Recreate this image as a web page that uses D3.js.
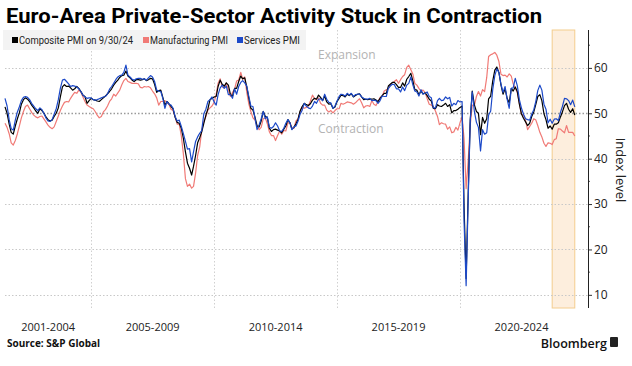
<!DOCTYPE html>
<html>
<head>
<meta charset="utf-8">
<script src="https://cdn.jsdelivr.net/npm/d3@7/dist/d3.min.js"></script>
<style>
    body { margin: 0; background: #fff; }
    svg { display: block; font-family: "Open Sans", "Liberation Sans", sans-serif; }
</style>
</head>
<body>
<div id="chart"></div>
<script>
// monthly readings, first value is July 2001
const seriesStart = new Date(2001, 6, 1);

const composite = [
    51.4, 50.0, 47.6, 45.8, 45.4, 47.2,
    48.8, 50.2, 52.0, 53.0, 53.4, 53.1, 52.6, 51.8, 51.2, 50.5, 50.0, 51.0,
    50.6, 50.0, 49.2, 48.6, 48.3, 48.5, 49.3, 50.0, 51.2, 53.6, 55.8, 56.3,
    55.9, 56.0, 55.6, 55.1, 55.4, 55.9, 55.5, 54.8, 54.0, 53.7, 52.2, 52.8,
    53.3, 53.0, 52.9, 52.7, 52.6, 53.0, 53.4, 53.8, 54.3, 54.8, 55.4, 56.2,
    56.8, 57.3, 57.9, 58.3, 58.4, 59.3, 58.2, 57.8, 57.3, 57.0, 57.4, 57.4,
    57.3, 57.4, 57.6, 57.2, 57.4, 57.7, 57.6, 56.4, 54.6, 55.0, 55.1, 53.5,
    51.8, 52.6, 52.1, 51.5, 51.0, 49.1, 48.0, 47.8, 46.7, 44.5, 41.5, 39.0,
    37.9, 36.4, 38.3, 40.7, 43.5, 44.6, 45.9, 47.8, 49.6, 51.0, 53.0, 53.3,
    53.6, 53.7, 55.9, 57.3, 56.4, 56.0, 56.7, 56.2, 54.1, 53.8, 55.5, 55.5,
    57.0, 58.2, 57.6, 57.8, 55.8, 53.3, 51.1, 50.7, 49.1, 47.2, 47.0, 48.3,
    50.4, 49.3, 49.1, 46.7, 46.0, 46.4, 46.5, 46.3, 46.1, 45.7, 46.5, 47.2,
    48.6, 47.9, 46.5, 46.9, 47.7, 48.7, 50.5, 51.5, 52.2, 51.9, 51.7, 52.1,
    52.9, 53.3, 53.1, 54.0, 53.5, 52.8, 53.8, 52.5, 52.0, 52.1, 51.1, 51.4,
    52.6, 53.3, 54.0, 53.9, 53.6, 54.2, 53.9, 54.3, 53.6, 53.9, 54.2, 54.3,
    53.6, 53.0, 53.1, 53.0, 53.1, 53.1, 53.2, 52.9, 52.6, 53.3, 53.9, 54.4,
    54.4, 56.0, 56.4, 56.8, 56.8, 56.3, 55.7, 55.7, 56.7, 56.0, 57.5, 58.1,
    58.8, 57.1, 55.2, 55.1, 54.1, 54.9, 54.3, 54.5, 53.9, 53.1, 52.7, 51.1,
    51.0, 51.9, 51.6, 51.5, 51.8, 52.2, 51.5, 51.9, 50.1, 50.6, 50.6, 50.9,
    51.3, 51.6, 29.7, 13.6, 31.9, 48.5, 54.9, 51.9, 50.4, 50.0, 45.3, 49.1,
    47.8, 48.8, 53.2, 53.8, 57.1, 59.5, 60.2, 59.0, 56.2, 54.2, 55.4, 53.3,
    52.3, 55.5, 54.9, 55.8, 54.8, 52.0, 49.9, 48.9, 48.1, 47.3, 47.8, 49.3,
    50.3, 52.0, 53.7, 54.1, 52.8, 49.9, 48.6, 46.7, 47.2, 46.5, 47.6, 47.6,
    47.9, 49.2, 50.3, 51.7, 52.2, 50.9, 50.2, 51.0, 49.6
];

const manufacturing = [
    47.8, 46.9, 45.5, 43.5, 43.0, 44.0,
    45.5, 47.3, 49.0, 50.4, 51.5, 51.8, 51.0, 50.2, 49.6, 49.2, 49.0, 49.3,
    49.4, 48.7, 48.1, 47.4, 46.9, 46.6, 47.0, 48.2, 49.4, 50.6, 51.6, 52.4,
    52.6, 52.5, 53.3, 54.0, 54.6, 54.4, 55.1, 54.7, 53.6, 52.6, 51.8, 51.5,
    51.2, 51.0, 50.4, 49.6, 49.0, 49.3, 50.3, 50.8, 51.6, 52.6, 53.2, 54.2,
    53.8, 54.5, 55.1, 56.3, 57.2, 57.7, 57.0, 56.8, 56.6, 56.6, 56.6, 56.5,
    55.7, 55.6, 55.9, 55.8, 55.9, 55.6, 54.9, 54.3, 53.4, 51.8, 52.6, 52.6,
    52.8, 52.3, 52.0, 50.9, 50.6, 49.2, 47.6, 47.6, 45.0, 41.1, 35.6, 33.9,
    34.4, 33.5, 33.9, 36.8, 40.7, 42.6, 46.3, 48.2, 49.3, 50.7, 51.2, 51.6,
    52.4, 54.2, 56.6, 57.6, 55.8, 55.6, 56.7, 55.1, 53.7, 54.6, 55.3, 57.1,
    57.3, 59.0, 57.5, 58.0, 54.6, 52.0, 50.4, 49.0, 48.5, 47.1, 46.4, 46.9,
    48.8, 49.0, 47.7, 45.9, 45.1, 45.1, 44.0, 45.1, 46.1, 45.4, 46.2, 46.1,
    47.9, 47.9, 46.8, 46.7, 48.3, 48.8, 50.3, 51.4, 51.1, 51.3, 51.6, 52.7,
    54.0, 53.2, 53.0, 53.4, 52.2, 51.8, 51.8, 50.7, 50.3, 50.6, 50.1, 50.6,
    51.0, 51.0, 52.2, 52.0, 52.2, 52.5, 52.4, 52.3, 52.0, 52.3, 52.8, 53.2,
    52.3, 51.2, 51.6, 51.7, 51.5, 52.8, 52.0, 51.7, 52.6, 53.5, 53.7, 54.9,
    55.2, 55.4, 56.2, 56.7, 57.0, 57.4, 56.6, 57.4, 58.1, 58.5, 60.1, 60.6,
    59.6, 58.6, 56.6, 56.2, 55.5, 54.9, 55.1, 54.6, 53.2, 52.0, 51.8, 51.4,
    50.5, 49.3, 47.5, 47.9, 47.7, 47.6, 46.5, 47.0, 45.7, 45.9, 46.9, 46.3,
    47.9, 49.2, 44.5, 33.4, 39.4, 47.4, 51.8, 51.7, 53.7, 54.8, 53.8, 55.2,
    54.8, 57.9, 62.5, 62.9, 63.1, 63.4, 62.8, 61.4, 58.6, 58.3, 58.4, 58.0,
    58.7, 58.2, 56.5, 55.5, 54.6, 52.1, 49.8, 49.6, 48.4, 46.4, 47.1, 47.8,
    48.8, 48.5, 47.3, 45.8, 44.8, 43.4, 42.7, 43.5, 43.4, 43.1, 44.2, 44.4,
    46.6, 46.5, 46.1, 45.7, 47.3, 45.8, 45.8, 45.8, 45.0
];

const services = [
    53.3, 51.6, 48.6, 46.6, 46.3, 48.5,
    50.3, 51.5, 52.8, 53.5, 53.7, 53.5, 53.0, 52.2, 51.6, 51.0, 50.6, 51.2,
    50.8, 49.9, 49.0, 48.3, 48.2, 48.6, 49.8, 51.0, 53.0, 55.5, 57.3, 57.5,
    57.0, 56.5, 55.9, 56.1, 56.0, 55.8, 55.4, 54.8, 54.0, 53.6, 53.3, 53.4,
    53.4, 53.0, 52.9, 53.0, 53.2, 53.4, 53.6, 53.7, 54.3, 55.3, 55.9, 56.6,
    57.4, 58.0, 58.3, 58.4, 59.0, 60.6, 58.4, 58.0, 57.5, 57.3, 57.6, 57.7,
    57.7, 57.5, 57.6, 57.3, 57.8, 58.3, 58.0, 57.0, 55.1, 54.9, 54.8, 53.3,
    51.1, 52.6, 52.0, 51.8, 51.1, 49.3, 48.3, 48.5, 47.1, 45.5, 43.8, 42.1,
    42.2, 39.3, 41.5, 43.8, 44.8, 45.6, 46.2, 49.9, 50.9, 52.6, 53.0, 53.6,
    52.5, 51.8, 54.1, 55.6, 56.2, 55.5, 56.0, 54.1, 54.1, 53.3, 55.4, 54.2,
    55.9, 56.8, 57.2, 56.7, 56.0, 53.7, 51.6, 51.5, 48.8, 46.4, 47.5, 48.8,
    50.4, 48.8, 49.2, 46.9, 46.7, 47.1, 47.9, 47.2, 46.1, 46.0, 46.7, 47.8,
    48.6, 47.9, 46.4, 47.0, 47.2, 48.3, 49.8, 50.7, 52.2, 51.6, 51.2, 51.0,
    51.6, 52.6, 52.2, 53.1, 53.2, 52.8, 54.2, 53.1, 52.4, 52.3, 51.1, 51.6,
    52.7, 53.7, 54.2, 54.1, 53.8, 54.4, 54.0, 54.4, 53.7, 54.1, 54.2, 54.2,
    53.6, 53.3, 53.1, 53.1, 53.3, 52.8, 52.9, 52.8, 52.2, 52.8, 53.8, 53.7,
    53.7, 55.5, 56.0, 56.4, 56.3, 55.4, 55.4, 54.7, 55.8, 55.0, 56.2, 56.6,
    58.0, 56.2, 54.9, 54.7, 53.8, 55.2, 54.2, 54.4, 54.7, 53.7, 53.4, 51.2,
    51.2, 52.8, 53.3, 52.8, 52.9, 53.6, 53.2, 53.5, 51.6, 52.2, 51.9, 52.8,
    52.5, 52.6, 26.4, 12.0, 30.5, 48.3, 54.7, 50.5, 48.0, 46.9, 41.7, 46.4,
    45.4, 45.7, 49.6, 50.5, 55.2, 58.3, 59.8, 59.0, 56.4, 54.6, 55.9, 53.1,
    51.1, 55.5, 55.6, 57.7, 56.1, 53.0, 51.2, 49.8, 48.8, 48.6, 48.5, 49.8,
    50.8, 52.7, 55.0, 56.2, 55.1, 52.0, 50.9, 47.9, 48.7, 47.8, 48.7, 48.8,
    48.4, 50.2, 51.5, 53.3, 53.2, 52.8, 51.9, 52.9, 51.4
];

const seriesNames = ['Composite PMI on 9/30/24', 'Manufacturing PMI', 'Services PMI'];
const seriesColors = ['#000000', '#f07a76', '#1c49c8'];

const gridYears = [2005, 2010, 2015, 2020];
const periodLabels = ['2001-2004', '2005-2009', '2010-2014', '2015-2019', '2020-2024'];
const periodStarts = [2001, 2005, 2010, 2015, 2020];
const periodEnds = [2005, 2010, 2015, 2020, 2025];
const yTicks = [10, 20, 30, 40, 50, 60];
const yMinorTicks = [15, 25, 35, 45, 55, 65];
const highlightStart = new Date(2023, 9, 1);
const highlightEnd = new Date(2024, 8, 1);

const width = 632, height = 366;
const margin = {top: 30, right: 44, bottom: 58, left: 5};

const svg = d3.select('#chart').append('svg')
    .attr('width', width)
    .attr('height', height);

const x = d3.scaleTime()
    .domain([seriesStart, new Date(2025, 0, 1)])
    .range([margin.left, 583]);

const y = d3.scaleLinear()
    .domain([7.1, 68.35])
    .range([height - margin.bottom, margin.top]);

const axisX = width - margin.right;

// highlight band
svg.append('rect')
    .attr('x', x(highlightStart))
    .attr('y', margin.top)
    .attr('width', x(highlightEnd) - x(highlightStart))
    .attr('height', y.range()[0] - margin.top)
    .attr('fill', '#fdeedd')
    .attr('stroke', '#f4cd8e')
    .attr('stroke-width', 1);

// grid
svg.append('g')
    .selectAll('line')
    .data(yTicks)
    .join('line')
    .attr('x1', margin.left)
    .attr('x2', axisX)
    .attr('y1', d => Math.round(y(d)) + 0.5)
    .attr('y2', d => Math.round(y(d)) + 0.5)
    .attr('stroke', d => d === 50 ? '#9a9a9a' : '#c8c8c8')
    .attr('stroke-width', d => d === 50 ? 1.3 : 1)
    .attr('stroke-dasharray', '1.5,2');

svg.append('g')
    .selectAll('line')
    .data(gridYears)
    .join('line')
    .attr('x1', d => Math.round(x(new Date(d, 0, 1))) + 0.5)
    .attr('x2', d => Math.round(x(new Date(d, 0, 1))) + 0.5)
    .attr('y1', margin.top)
    .attr('y2', y.range()[0])
    .attr('stroke', '#d0d0d0')
    .attr('stroke-dasharray', '1.5,2');

// zone labels
svg.append('text')
    .attr('x', 318)
    .attr('y', 59)
    .attr('fill', '#b3b3b3')
    .attr('font-size', 12)
    .text('Expansion');

svg.append('text')
    .attr('x', 318)
    .attr('y', 133)
    .attr('fill', '#b3b3b3')
    .attr('font-size', 12)
    .text('Contraction');

// lines
const line = d3.line()
    .x((d, i) => x(d3.timeMonth.offset(seriesStart, i)))
    .y(d => y(d));

const drawOrder = [1, 0, 2];
const allSeries = [composite, manufacturing, services];

drawOrder.forEach(k => {
    svg.append('path')
        .datum(allSeries[k])
        .attr('fill', 'none')
        .attr('stroke', seriesColors[k])
        .attr('stroke-width', 1.2)
        .attr('stroke-linejoin', 'round')
        .attr('d', line);
});

// right axis
const yAxis = svg.append('g')
    .attr('transform', 'translate(' + axisX + ',0)')
    .call(d3.axisRight(y).tickValues(yTicks).tickSize(4).tickPadding(2));

yAxis.select('.domain').remove();
yAxis.selectAll('text')
    .attr('font-size', 12)
    .attr('fill', '#222')
    .attr('font-family', '"Open Sans", sans-serif');
yAxis.selectAll('line').attr('stroke', '#333');

svg.append('g')
    .selectAll('line')
    .data(yMinorTicks)
    .join('line')
    .attr('x1', axisX)
    .attr('x2', axisX + 2)
    .attr('y1', d => y(d))
    .attr('y2', d => y(d))
    .attr('stroke', '#555');

svg.append('line')
    .attr('x1', axisX + 0.5)
    .attr('x2', axisX + 0.5)
    .attr('y1', margin.top)
    .attr('y2', y.range()[0])
    .attr('stroke', '#222');

svg.append('text')
    .attr('transform', 'translate(616,' + 170 + ') rotate(90)')
    .attr('text-anchor', 'middle')
    .attr('font-size', 13)
    .attr('fill', '#222')
    .text('Index level');

// period labels on the time axis
svg.append('g')
    .selectAll('text')
    .data(periodLabels)
    .join('text')
    .attr('x', (d, i) => {
        const a = Math.max(x(new Date(periodStarts[i], 0, 1)), x.range()[0]);
        const b = x(new Date(periodEnds[i], 0, 1));
        return (a + b) / 2;
    })
    .attr('y', 331)
    .attr('text-anchor', 'middle')
    .attr('font-size', 11)
    .attr('fill', '#222')
    .text(d => d);

// legend
const legend = svg.append('g');
legend.append('rect')
    .attr('x', 3)
    .attr('y', 30)
    .attr('width', 303)
    .attr('height', 20)
    .attr('fill', '#f3f3f3');

const legendX = [12, 143, 237];
const legendTextWidth = [114, 78, 56];
seriesNames.forEach((name, i) => {
    legend.append('rect')
        .attr('x', legendX[i])
        .attr('y', 37)
        .attr('width', 6)
        .attr('height', 6)
        .attr('fill', seriesColors[i]);
    legend.append('text')
        .attr('x', legendX[i] + 7)
        .attr('y', 44)
        .attr('font-family', 'Roboto, sans-serif')
        .attr('font-size', 10.5)
        .attr('fill', '#222')
        .attr('textLength', legendTextWidth[i])
        .attr('lengthAdjust', 'spacingAndGlyphs')
        .text(name);
});

// title
svg.append('text')
    .attr('x', 6)
    .attr('y', 23)
    .attr('font-family', 'Roboto, "Liberation Sans", sans-serif')
    .attr('font-weight', 700)
    .attr('font-size', 20)
    .attr('fill', '#000')
    .attr('textLength', 536)
    .attr('lengthAdjust', 'spacingAndGlyphs')
    .text('Euro-Area Private-Sector Activity Stuck in Contraction');

// footer
svg.append('text')
    .attr('x', 7)
    .attr('y', 347)
    .attr('font-weight', 700)
    .attr('font-size', 10)
    .attr('fill', '#111')
    .text('Source: S&P Global');

svg.append('text')
    .attr('x', 607)
    .attr('y', 348)
    .attr('text-anchor', 'end')
    .attr('font-weight', 600)
    .attr('font-size', 12.5)
    .attr('fill', '#111')
    .text('Bloomberg');

svg.append('rect')
    .attr('x', 610)
    .attr('y', 337)
    .attr('width', 8)
    .attr('height', 10)
    .attr('rx', 1)
    .attr('fill', '#222');
</script>
</body>
</html>
